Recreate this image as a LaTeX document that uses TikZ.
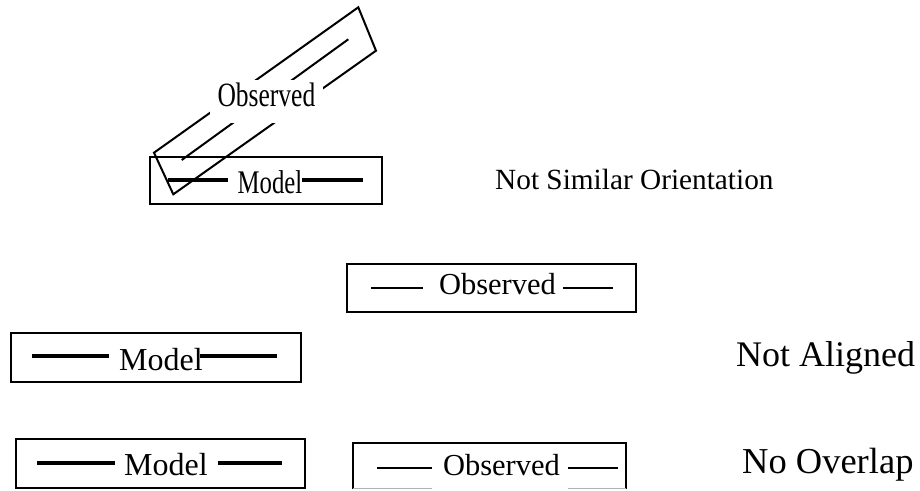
\documentclass[tikz,border=0pt]{standalone}
\usepackage{fontspec}
\setmainfont{Liberation Serif}
\newfontfamily\narrowserif[FakeStretch=0.75]{Liberation Serif}
\begin{document}
\begin{tikzpicture}[x=1pt,y=-1pt,
  frame/.style={draw=black, line width=2pt},
  modelline/.style={line width=4pt},
  obsline/.style={line width=1.4pt},
  caption/.style={anchor=base west, inner sep=0pt},
  word/.style={anchor=base, inner sep=0pt}]
\useasboundingbox (0,0) rectangle (920,490);

% --- Not similar orientation: tilted observed box over a model box
\draw[frame] (150,157) rectangle (382,204);
\draw[modelline] (168,180) -- (228,180) (302,180) -- (363,180);
\node[word, font=\narrowserif\fontsize{33}{40}\selectfont] (m1) at (270,193) {Model};
\draw[frame] (154,152.7) -- (358.3,7.3) -- (376,50.7) -- (173.3,194.3) -- cycle;
\draw[line width=2pt] (181.7,160) -- (348.3,39.3);
\node[word, fill=white, text height=26pt, text depth=17pt, minimum width=113pt,
      font=\narrowserif\fontsize{34}{40}\selectfont] (o1) at (266.4,106) {Observed};
\node[caption, font=\fontsize{29.3}{35}\selectfont] (t1) at (495,189) {Not Similar Orientation};

% --- Not aligned
\draw[frame] (426,312) -- (347,312) -- (347,264) -- (636,264) -- (636,312) -- (563,312);
\draw[line width=1.2pt] (426,312) -- (563,312);
\draw[obsline] (371,288) -- (423,288) (563,288) -- (613,288);
\node[word, font=\fontsize{30.5}{36}\selectfont] (o2) at (497.5,294) {Observed};

\draw[frame] (11,333) rectangle (301,382);
\draw[modelline] (32,356) -- (109,356) (200,356) -- (277,356);
\node[word, font=\fontsize{32}{38}\selectfont] (m2) at (161,370) {Model};
\node[caption, font=\fontsize{36}{42}\selectfont] (t2) at (736,366) {Not Aligned};

% --- No overlap
\draw[frame] (16,439) rectangle (305,488);
\draw[modelline] (37,463) -- (115,463) (218,463) -- (282,463);
\node[word, font=\fontsize{32}{38}\selectfont] (m3) at (166,475) {Model};

\draw[frame] (353,489) -- (353,443) -- (626,443) -- (626,489);
\draw[line width=1pt, black!30] (353,488.5) -- (432,488.5) (568,488.5) -- (626,488.5);
\draw[obsline] (377,468) -- (432,468) (568,468) -- (618,468);
\node[word, font=\fontsize{30.5}{36}\selectfont] (o3) at (501.5,475) {Observed};
\node[caption, font=\fontsize{36.5}{42}\selectfont] (t3) at (742,473) {No Overlap};
\end{tikzpicture}
\end{document}
